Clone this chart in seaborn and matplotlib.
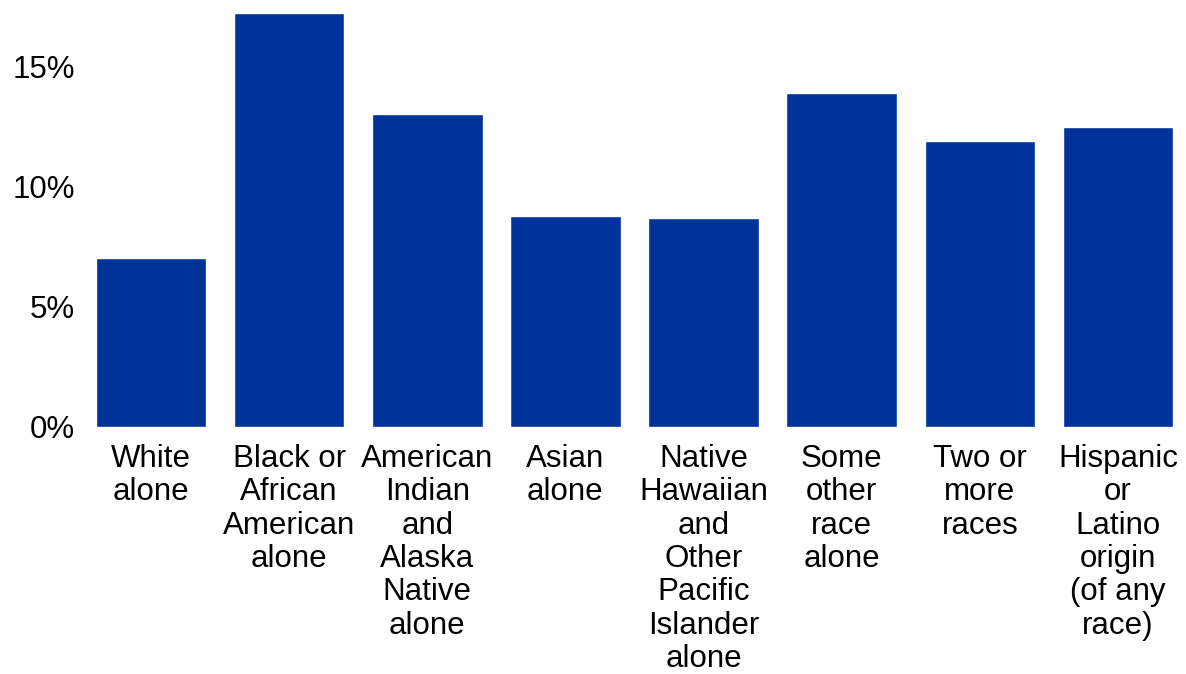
import matplotlib
matplotlib.use("Agg")
import matplotlib.pyplot as plt
import seaborn as sns
import pandas as pd
from matplotlib.ticker import FuncFormatter

categories = [
    "White\nalone",
    "Black or\nAfrican\nAmerican\nalone",
    "American\nIndian\nand\nAlaska\nNative\nalone",
    "Asian\nalone",
    "Native\nHawaiian\nand\nOther\nPacific\nIslander\nalone",
    "Some\nother\nrace\nalone",
    "Two or\nmore\nraces",
    "Hispanic\nor\nLatino\norigin\n(of any\nrace)",
]
values = [7.04, 17.26, 13.04, 8.79, 8.71, 13.92, 11.92, 12.5]
y_ticks = [0, 5, 10, 15]

BAR_COLOR = "#003399"

df = pd.DataFrame({"group": categories, "pct": values})

sns.set_theme(style="white")
plt.rcParams["font.family"] = ["Liberation Sans", "DejaVu Sans"]

fig = plt.figure(figsize=(11.86, 6.74), dpi=100)
ax = fig.add_axes([82 / 1186, 1 - 427 / 674, 1105 / 1186, (427 - 12.7) / 674])

sns.barplot(data=df, x="group", y="pct", color=BAR_COLOR, width=0.8,
            saturation=1, ax=ax)

ax.set_xlim(-0.5, len(categories) - 0.5)
ax.set_ylim(0, max(values))
ax.set_yticks(y_ticks)
ax.yaxis.set_major_formatter(FuncFormatter(lambda v, p: f"{v:.0f}%"))

ax.set_xlabel("")
ax.set_ylabel("")
sns.despine(ax=ax, left=True, bottom=True)
ax.tick_params(axis="both", length=0, labelsize=22.5, colors="black")
ax.tick_params(axis="y", pad=5)
ax.tick_params(axis="x", pad=12)
for lbl in ax.get_xticklabels():
    lbl.set_linespacing(1.15)

fig.savefig("out.png", dpi=100)
plt.close(fig)
